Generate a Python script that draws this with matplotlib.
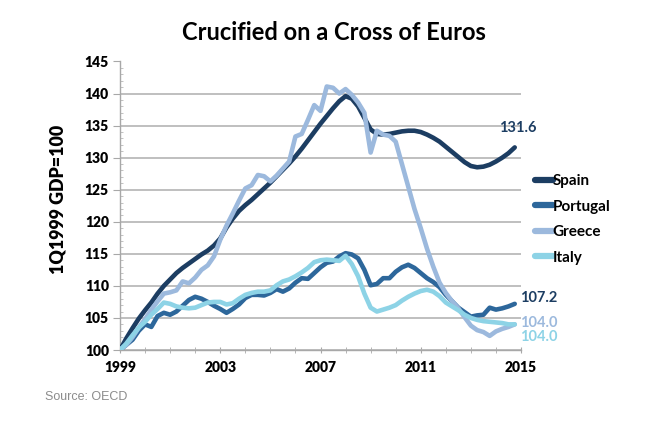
import matplotlib
matplotlib.use("Agg")
import matplotlib.pyplot as plt
import numpy as np

# ---- data (quarterly, 1Q1999 = 100) ----
start_year = 1999
spain = [100.0, 101.8, 103.4, 104.9, 106.2, 107.4, 108.8, 110.0,
         111.0, 112.0, 112.8, 113.5, 114.2, 114.9, 115.5, 116.3,
         117.4, 119.1, 120.5, 121.7, 122.6, 123.4, 124.3, 125.2,
         126.1, 127.1, 128.1, 129.1, 130.2, 131.4, 132.7, 134.0,
         135.3, 136.5, 137.7, 138.8, 139.6, 139.2, 138.0, 136.2,
         134.4, 133.7, 133.6, 133.7, 133.9, 134.1, 134.2, 134.2,
         134.0, 133.6, 133.1, 132.5, 131.7, 130.9, 130.1, 129.3,
         128.7, 128.5, 128.6, 128.9, 129.4, 130.0, 130.7, 131.6]
portugal = [100.0, 100.8, 101.6, 103.0, 104.0, 103.6, 105.3, 105.8,
            105.5, 106.0, 106.9, 107.8, 108.3, 108.0, 107.5, 106.9,
            106.4, 105.8, 106.4, 107.1, 108.1, 108.6, 108.6, 108.5,
            108.9, 109.5, 109.1, 109.6, 110.5, 111.2, 111.1, 112.0,
            112.9, 113.6, 113.8, 114.6, 115.1, 114.9, 114.3, 112.5,
            110.1, 110.3, 111.2, 111.2, 112.2, 112.9, 113.3, 112.8,
            112.0, 111.2, 110.6, 109.8, 108.6, 107.6, 106.6, 105.9,
            105.2, 105.4, 105.5, 106.6, 106.3, 106.5, 106.8, 107.2]
greece = [100.0, 100.8, 102.0, 103.5, 104.8, 106.3, 107.6, 108.8,
          109.0, 109.3, 110.7, 110.4, 111.3, 112.5, 113.2, 114.6,
          117.2, 119.4, 121.3, 123.3, 125.2, 125.7, 127.3, 127.1,
          126.3, 127.2, 128.3, 129.4, 133.3, 133.7, 135.9, 138.2,
          137.3, 141.1, 140.9, 140.0, 140.7, 139.8, 138.6, 137.0,
          130.8, 134.2, 133.6, 133.4, 132.5, 129.0, 125.5, 122.0,
          119.0, 115.8, 113.0, 110.5, 108.9, 107.6, 106.5, 105.1,
          103.8, 103.1, 102.8, 102.2, 102.9, 103.3, 103.6, 104.0]
italy = [100.0, 101.0, 102.3, 103.5, 104.4, 105.5, 106.4, 107.4,
         107.2, 106.8, 106.6, 106.5, 106.6, 107.0, 107.4, 107.5,
         107.5, 107.1, 107.3, 108.0, 108.6, 108.9, 109.1, 109.1,
         109.3, 110.1, 110.7, 111.0, 111.5, 112.1, 112.8, 113.7,
         114.0, 114.1, 114.0, 113.9, 114.7, 113.4, 111.5, 108.8,
         106.6, 106.0, 106.3, 106.6, 107.0, 107.7, 108.3, 108.8,
         109.2, 109.4, 109.1, 108.4, 107.4, 106.8, 106.2, 105.5,
         105.0, 104.7, 104.5, 104.4, 104.3, 104.2, 104.0, 104.0]
series_names = ["Spain", "Portugal", "Greece", "Italy"]
end_labels = ["131.6", "107.2", "104.0", "104.0"]
x_tick_years = [1999, 2003, 2007, 2011, 2015]
y_ticks = [100, 105, 110, 115, 120, 125, 130, 135, 140, 145]

colors = ["#1c3d62", "#2d679b", "#9cb9dd", "#8dd3e6"]
label_colors = ["#1c3d62", "#1c3d62", "#9cb9dd", "#8dd3e6"]

quarters = start_year + np.arange(len(spain)) / 4.0

FONT = "Lato"
fig = plt.figure(figsize=(6.6, 4.21), dpi=100)
ax = fig.add_axes([120/660, 1-350/421, 401/660, (350-61.5)/421])

for name, vals, c in zip(series_names, [spain, portugal, greece, italy], colors):
    ax.plot(quarters, vals, color=c, lw=3.3, label=name,
            solid_capstyle="round", solid_joinstyle="round", zorder=3)

ax.set_xlim(1999, 2015)
ax.set_ylim(100, 145)
ax.set_yticks(y_ticks)
ax.set_yticks(np.arange(100, 146, 1), minor=True)
ax.set_xticks(x_tick_years)
ax.set_xticks(np.arange(1999, 2016, 1), minor=True)
ax.grid(axis="y", which="major", color="#b4b4b4", lw=1.2, zorder=1)
for s in ["top", "right"]:
    ax.spines[s].set_visible(False)
for s in ["left", "bottom"]:
    ax.spines[s].set_color("#a8a8a8")
    ax.spines[s].set_linewidth(1.0)

ax.tick_params(axis="y", which="major", length=5, color="#a8a8a8", direction="out", pad=3)
ax.tick_params(axis="y", which="minor", length=2.5, color="#b8b8b8", direction="in")
ax.tick_params(axis="x", which="both", length=4, color="#a8a8a8", direction="inout", pad=6)

for lab in ax.get_yticklabels():
    lab.set_fontfamily(FONT); lab.set_fontweight("heavy"); lab.set_fontsize(10)
for lab in ax.get_xticklabels():
    lab.set_fontfamily(FONT); lab.set_fontweight("heavy"); lab.set_fontsize(10)

fig.text(58/660, 1-199/421, "1Q1999 GDP=100", rotation=90, ha="center", va="center",
         fontfamily=FONT, fontweight="heavy", fontsize=12.8)
fig.text(334/660, 1-33/421, "Crucified on a Cross of Euros", ha="center", va="center",
         fontfamily=FONT, fontweight="bold", fontsize=17)
fig.text(45/660, 1-397/421, "Source: OECD", ha="left", va="center",
         fontfamily="Liberation Sans", fontsize=9, color="#8c8c8c")

# end labels
last_x = quarters[-1]
lab_kw = dict(textcoords="offset points", ha="left", va="center", fontfamily=FONT,
              fontweight="bold", fontsize=10.5, annotation_clip=False)
ax.annotate(end_labels[0], xy=(last_x, spain[-1]), xytext=(-11, 14),
            color=label_colors[0], **lab_kw)
ax.annotate(end_labels[1], xy=(last_x, portugal[-1]), xytext=(4, 4),
            color=label_colors[1], **lab_kw)
ax.annotate(end_labels[2], xy=(last_x, greece[-1]), xytext=(4, 1),
            color=label_colors[2], **lab_kw)
ax.annotate(end_labels[3], xy=(last_x, italy[-1]), xytext=(4, -9),
            color=label_colors[3], **lab_kw)

leg = fig.legend(loc="upper left", bbox_to_anchor=(535/660, 1-174/421), frameon=False,
                 prop={"family": FONT, "weight": "bold", "size": 11},
                 handlelength=1.15, handletextpad=0.0, labelspacing=0.76, borderpad=0,
                 borderaxespad=0)
for h in leg.get_lines():
    h.set_linewidth(4.5)
    h.set_solid_capstyle("round")

fig.savefig("out.png", dpi=100, facecolor="white")
